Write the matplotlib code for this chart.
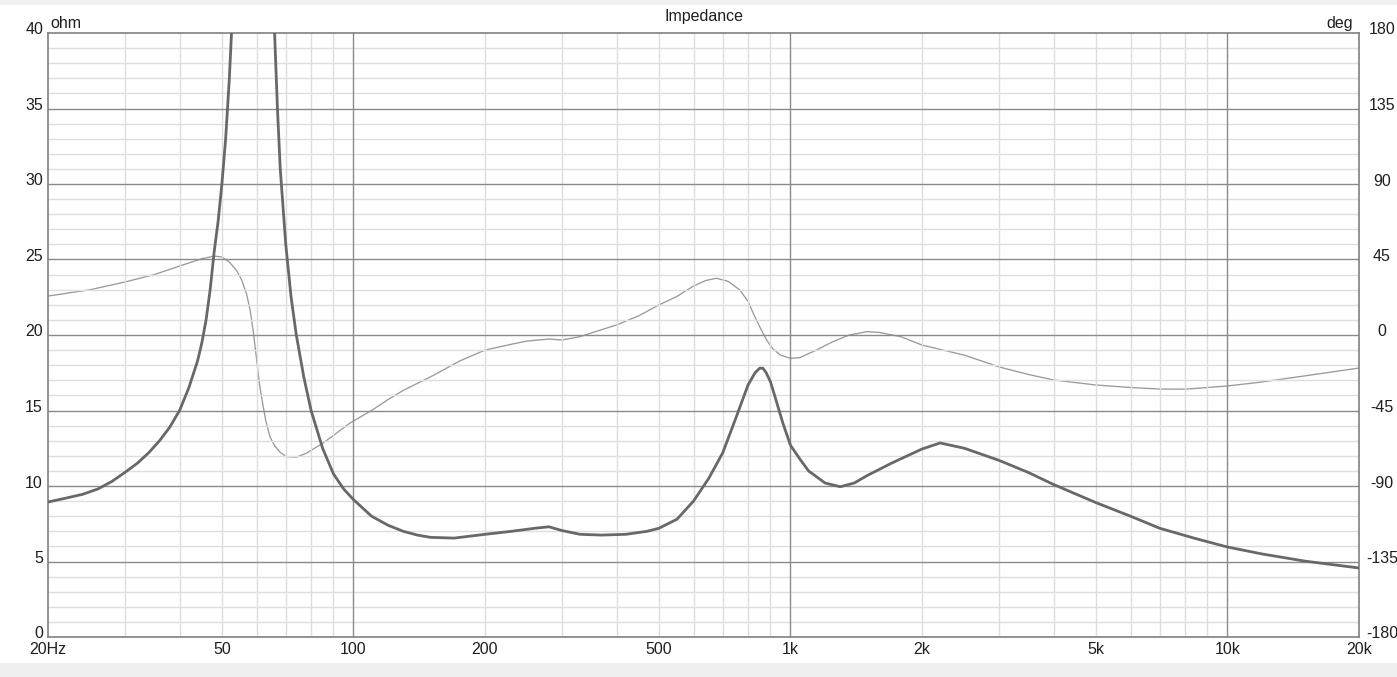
import matplotlib
matplotlib.use("Agg")
import matplotlib.pyplot as plt
from matplotlib.patches import Rectangle
from matplotlib.transforms import ScaledTranslation

# ---- data ----
imp_freq = [20, 22, 24, 26, 28, 30, 32, 34, 36, 38, 40, 42, 44, 45, 46, 47, 48, 49, 50, 51,
            52, 53, 55, 57, 59, 61, 63, 65, 66, 67, 68, 70, 72, 74, 77, 80, 85, 90, 95, 100,
            110, 120, 130, 140, 150, 170, 200, 230, 260, 280, 300, 330, 370, 420, 470, 500,
            550, 600, 650, 700, 750, 800, 830, 850, 865, 880, 900, 920, 960, 1000, 1050, 1100,
            1200, 1300, 1400, 1500, 1700, 2000, 2200, 2500, 3000, 3500, 4000, 5000, 6000, 7000,
            8500, 10000, 12000, 15000, 20000]
imp_ohm = [8.94, 9.2, 9.45, 9.8, 10.3, 10.9, 11.5, 12.2, 13.0, 13.9, 15.0, 16.5, 18.3, 19.5,
           21.0, 23.0, 25.5, 27.5, 30.0, 33.0, 37.0, 42.0, 55.0, 70.0, 80.0, 78.0, 62.0, 46.0,
           40.0, 35.0, 31.0, 26.0, 22.5, 20.0, 17.2, 15.0, 12.5, 10.8, 9.8, 9.1, 8.0, 7.4, 7.0,
           6.75, 6.6, 6.55, 6.8, 7.0, 7.2, 7.3, 7.05, 6.8, 6.75, 6.8, 7.0, 7.2, 7.8, 9.0, 10.5,
           12.2, 14.5, 16.7, 17.5, 17.8, 17.8, 17.5, 16.9, 16.0, 14.2, 12.7, 11.8, 11.0, 10.2,
           9.95, 10.2, 10.7, 11.5, 12.45, 12.85, 12.5, 11.7, 10.9, 10.1, 8.9, 8.0, 7.2, 6.5,
           5.96, 5.5, 5.03, 4.57]

ph_freq = [20, 25, 30, 35, 40, 45, 48, 50, 52, 54, 55.5, 57, 58, 59, 60, 61, 62, 63, 64.4, 66,
           68, 70.3, 74, 78, 85, 92, 98, 110, 120, 130, 150, 175, 200, 230, 250, 280, 300, 330,
           350, 400, 450, 500, 550, 600, 640, 677, 720, 766, 800, 822, 850, 882, 910, 947, 1000,
           1050, 1146, 1250, 1364, 1496, 1600, 1789, 2000, 2500, 3000, 3500, 4000, 5000, 6000,
           7000, 8000, 10000, 12000, 15000, 20000]
ph_deg = [23.2, 27, 31.6, 36, 41.1, 45.5, 47, 46.5, 43.5, 38.5, 32.8, 24, 15, 2, -14, -30, -41,
          -51, -60.6, -66, -70, -72.5, -72.8, -70.5, -64.6, -58, -52.6, -45, -38.5, -33, -25,
          -15.5, -9, -5.5, -3.6, -2.4, -3, -1, 1.2, 6, 11.5, 17.9, 23, 29.2, 32.5, 33.8, 32,
          26.8, 20, 12.9, 5, -3, -8, -11.9, -13.9, -13.5, -9, -4, 0, 2, 1.5, -1, -6, -12, -19,
          -23.5, -26.8, -29.8, -31.3, -32.2, -32.3, -30.4, -28, -24.4, -19.7]

x_ticks = [20, 50, 100, 200, 500, 1000, 2000, 5000, 10000, 20000]
x_labels = ["20Hz", "50", "100", "200", "500", "1k", "2k", "5k", "10k", "20k"]
y_ticks = [0, 5, 10, 15, 20, 25, 30, 35, 40]
y2_ticks = [-180, -135, -90, -45, 0, 45, 90, 135, 180]

plt.rcParams["font.family"] = ["Liberation Sans", "DejaVu Sans"]
FS = 11.5
TXT = "#1e1e1e"

# ---- figure ----
W, H = 1397, 677
fig = plt.figure(figsize=(W / 100, H / 100), dpi=100, facecolor="white")
fig.patches.append(Rectangle((0, 1 - 5 / H), 1, 5 / H, transform=fig.transFigure,
                             facecolor="#f0f0f0", edgecolor="none", zorder=-10))
fig.patches.append(Rectangle((0, 0), 1, 14 / H, transform=fig.transFigure,
                             facecolor="#f0f0f0", edgecolor="none", zorder=-10))

L, R, T, B = 48, 1359, 33, 637
ax = fig.add_axes([L / W, 1 - B / H, (R - L) / W, (B - T) / H])
ax.set_xscale("log")
ax.set_xlim(20, 20000)
ax.set_ylim(0, 40)

minor_col = "#dedede"
major_col = "#8a8a8a"
for dec in [10, 100, 1000, 10000]:
    for m in range(2, 10):
        f = dec * m
        if 20 < f < 20000:
            ax.axvline(f, color=minor_col, lw=1.0, zorder=0)
for v in range(1, 40):
    if v % 5:
        ax.axhline(v, color=minor_col, lw=1.0, zorder=0)
for f in [100, 1000, 10000]:
    ax.axvline(f, color=major_col, lw=1.0, zorder=1)
for v in range(5, 40, 5):
    ax.axhline(v, color=major_col, lw=1.0, zorder=1)

for s in ax.spines.values():
    s.set_color("#808080")
    s.set_linewidth(1.2)

px = 1 / 100.0
ax.set_xticks(x_ticks)
ax.set_xticklabels(x_labels)
ax.xaxis.set_minor_locator(matplotlib.ticker.NullLocator())
ax.set_yticks(y_ticks)
ax.set_yticklabels([str(v) for v in y_ticks])
ax.tick_params(axis="both", length=0, labelsize=FS, colors=TXT)
ax.tick_params(axis="y", pad=3.6)
ax.tick_params(axis="x", pad=12 * 0.72)
for lab in ax.get_xticklabels():
    lab.set_verticalalignment("center")
for lab in ax.get_yticklabels():
    lab.set_verticalalignment("center")
    lab.set_transform(lab.get_transform() + ScaledTranslation(0, 3 * px, fig.dpi_scale_trans))

ax2 = ax.twinx()
ax2.set_ylim(-180, 180)
ax2.set_yticks(y2_ticks)
ax2.set_yticklabels([str(v) for v in y2_ticks])
ax2.tick_params(axis="y", length=0, labelsize=FS, colors=TXT, pad=23 * 0.72)
for lab in ax2.get_yticklabels():
    lab.set_horizontalalignment("center")
    lab.set_verticalalignment("center")
    lab.set_transform(lab.get_transform() + ScaledTranslation(0, 3 * px, fig.dpi_scale_trans))
for s in ax2.spines.values():
    s.set_visible(False)

ax2.plot(ph_freq, ph_deg, color="#9a9a9a", lw=0.95, zorder=3)
ax.plot(imp_freq, imp_ohm, color="#686868", lw=2.0, zorder=4, solid_joinstyle="round")
ax.set_zorder(ax2.get_zorder() + 1)
ax.patch.set_visible(False)

fig.text((L + R) / 2 / W, 1 - 17 / H, "Impedance", ha="center", va="center",
         fontsize=FS, color=TXT)
fig.text(50 / W, 1 - 28 / H, "ohm", ha="left", va="baseline", fontsize=FS, color=TXT)
fig.text(1353 / W, 1 - 28 / H, "deg", ha="right", va="baseline", fontsize=FS, color=TXT)

fig.savefig("out.png", dpi=100, facecolor="white")
